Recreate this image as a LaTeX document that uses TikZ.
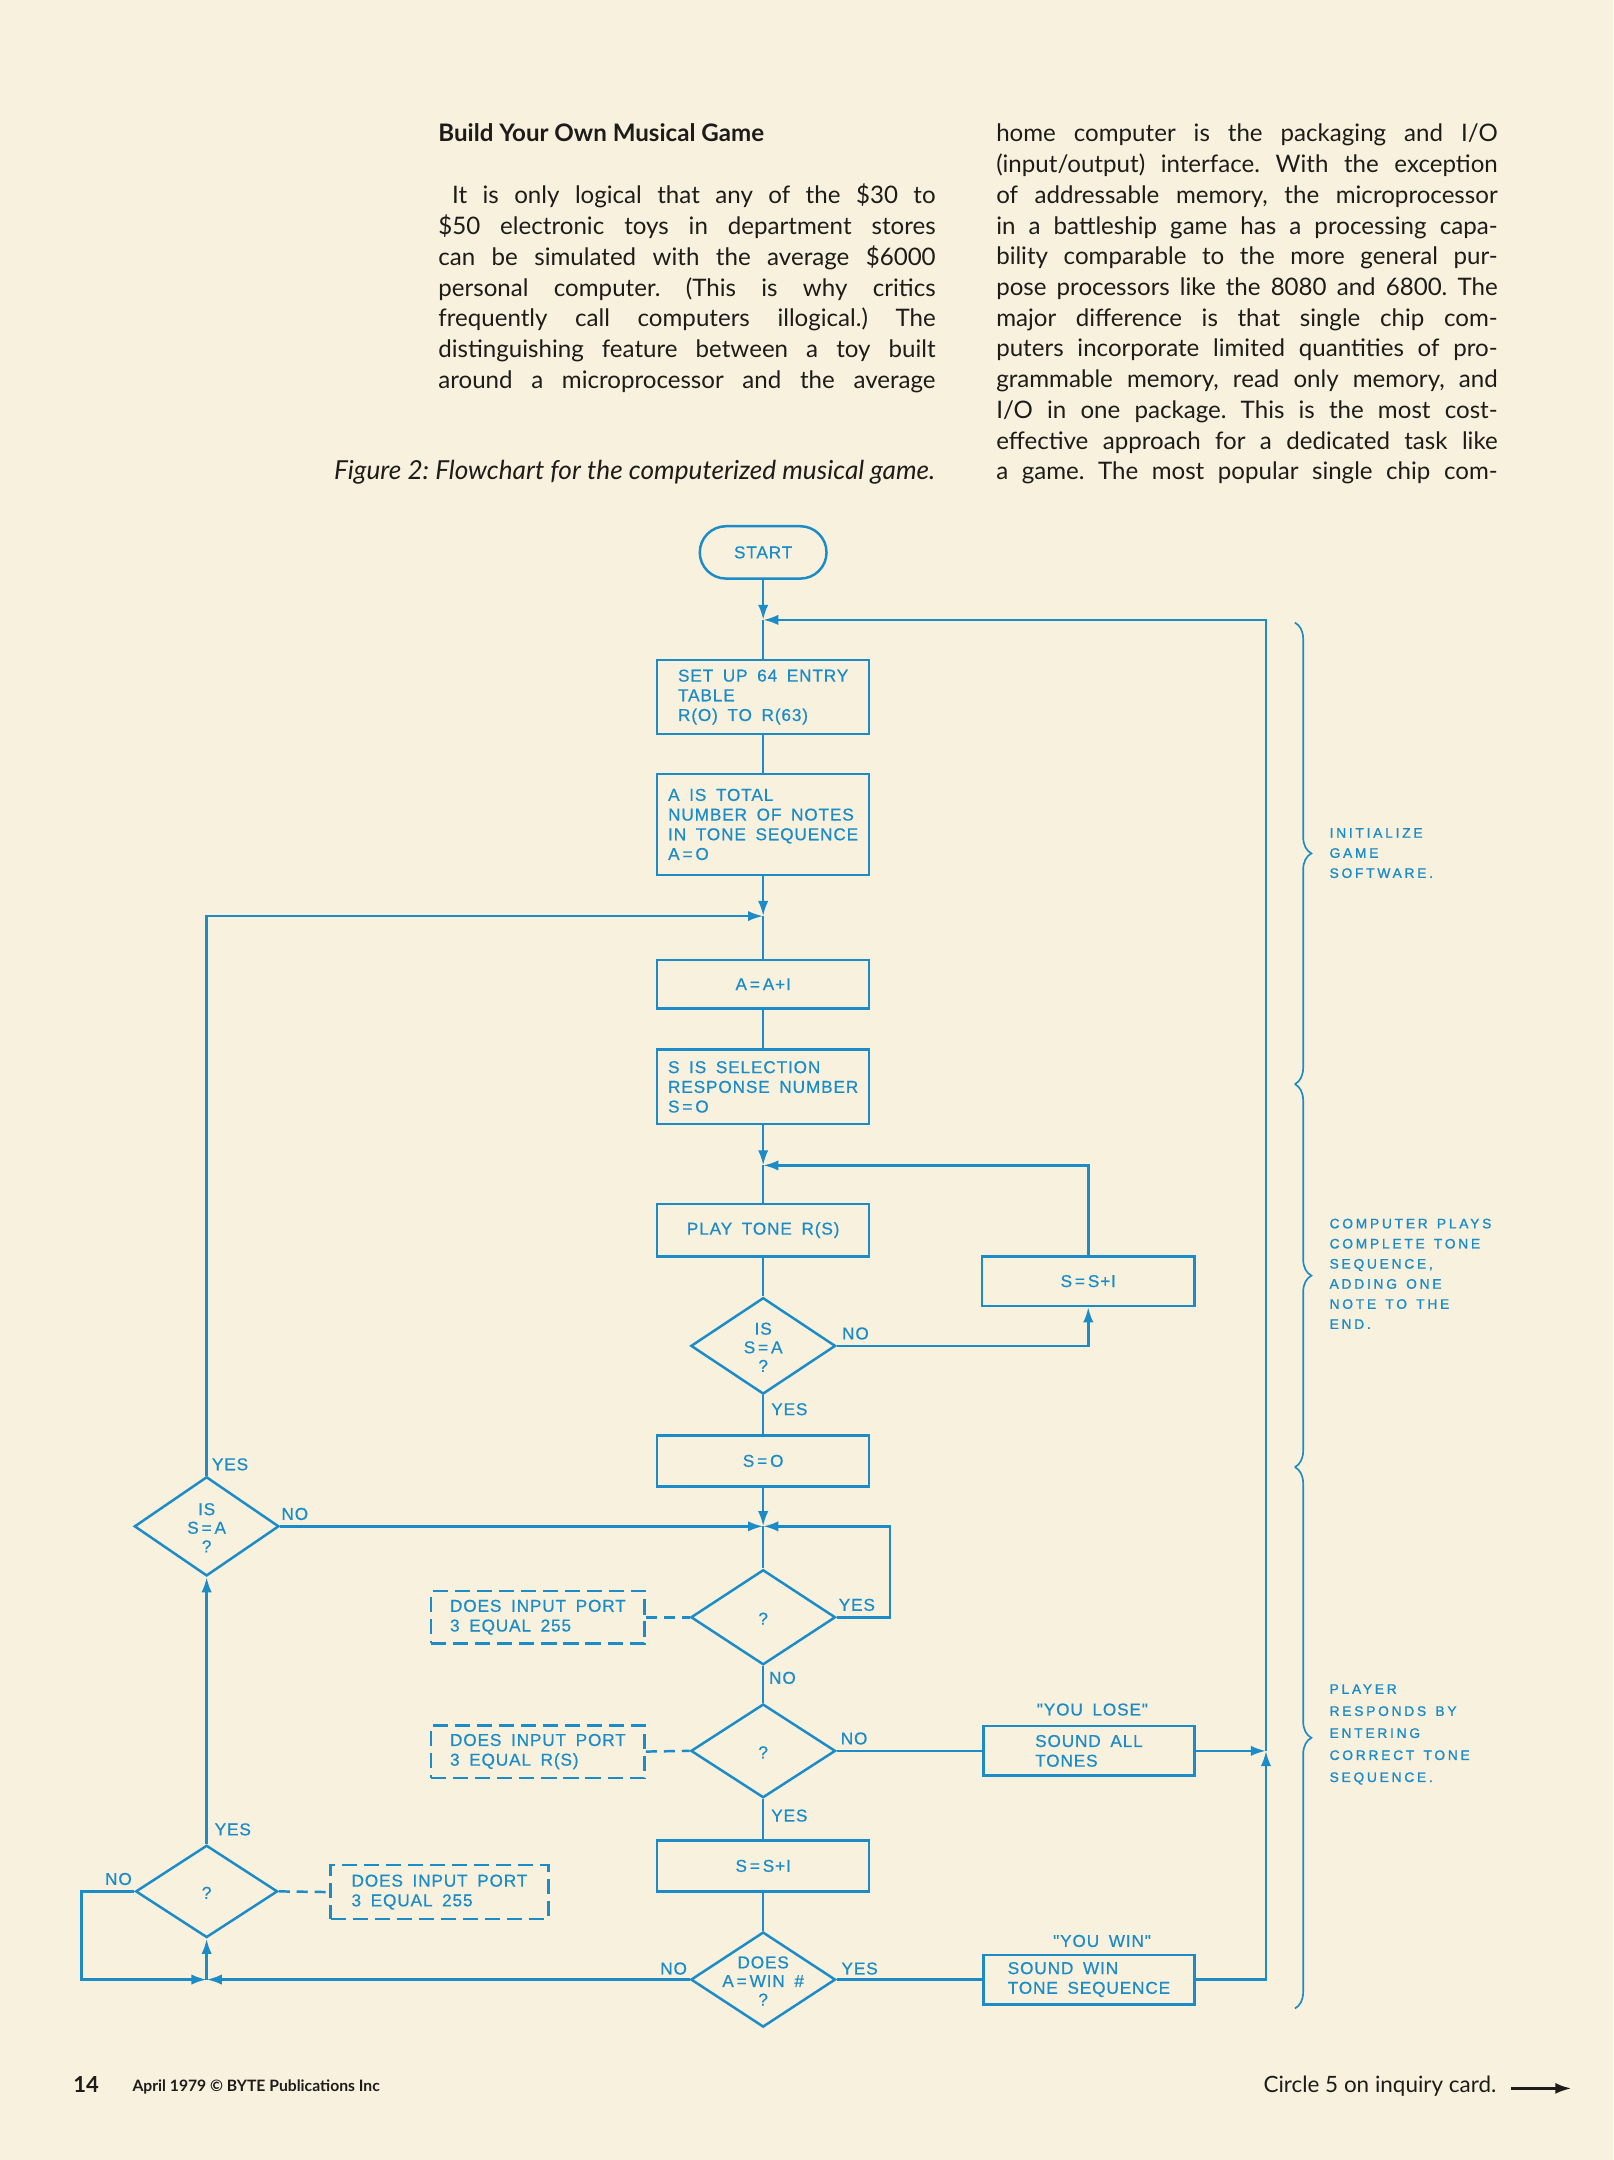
\documentclass[tikz,border=0pt]{standalone}
\usepackage{fontspec}
\setmainfont{Lato}
\newfontfamily\flowfont[LetterSpace=5,WordSpace=1.7,FakeBold=0.6]{Liberation Sans}
\newfontfamily\bracefont[LetterSpace=20,WordSpace=1.4,FakeBold=1.2]{Liberation Sans}
\usetikzlibrary{arrows.meta,shapes.geometric,decorations.pathreplacing,calc}
\definecolor{paper}{RGB}{247,241,221}
\definecolor{fblue}{RGB}{28,140,200}
\definecolor{ink}{RGB}{30,28,26}
\newcommand\jline[2]{\makebox[#1pt][s]{#2}}
\begin{document}
\frenchspacing
\begin{tikzpicture}[x=1pt,y=-1pt,
  every node/.style={inner sep=0pt},
  fl/.style={line width=1.8pt, draw=fblue},
  arr/.style={fl, -{Latex[length=11pt,width=7.5pt]}},
  ff/.style={text=fblue, font=\flowfont\fontsize{12.5}{14.3}\selectfont},
  box/.style={ff, draw=fblue, line width=1.8pt, minimum width=154pt, align=left},
  cbox/.style={box, align=center},
  dia/.style={diamond, draw=fblue, line width=1.8pt, minimum width=105pt, minimum height=70pt, inner sep=0pt},
  dtext/.style={ff, align=center, font=\flowfont\fontsize{12.5}{13.5}\selectfont},
  lbl/.style={ff},
  pbox/.style={ff, draw=fblue, line width=1.8pt, dash pattern=on 11pt off 5pt, minimum width=155pt, minimum height=38pt, align=left},
  dashc/.style={fl, dash pattern=on 8pt off 5pt},
  bracestyle/.style={draw=fblue, line width=1.2pt, decorate, decoration={brace, amplitude=12pt}},
  bracelbl/.style={anchor=north west, align=left, text=fblue, font=\bracefont\fontsize{10}{14.6}\selectfont},
  body/.style={anchor=base west, text=ink, font=\fontsize{17.5}{22.3}\selectfont},
]
% page
\fill[paper] (0,0) rectangle (1171,1568);
\useasboundingbox (0,0) rectangle (1171,1568);

% ---------- text columns ----------
\node[body, font=\bfseries\fontsize{17.5}{22.3}\selectfont] (title) at (318,103) {Build Your Own Musical Game};
\node[body] (l1) at (328,148.0) {\jline{351}{It is only logical that any of the \$30 to}};
\node[body] (l2) at (318,170.3) {\jline{361}{\$50 electronic toys in department stores}};
\node[body] (l3) at (318,192.6) {\jline{361}{can be simulated with the average \$6000}};
\node[body] (l4) at (318,214.9) {\jline{361}{personal computer. (This is why critics}};
\node[body] (l5) at (318,237.2) {\jline{361}{frequently call computers illogical.) The}};
\node[body] (l6) at (318,259.5) {\jline{361}{distinguishing feature between a toy built}};
\node[body] (l7) at (318,281.8) {\jline{361}{around a microprocessor and the average}};
\node[body, anchor=base east, font=\itshape\fontsize{19}{22.3}\selectfont] (cap) at (679,348.3) {Figure 2: Flowchart for the computerized musical game.};

\node[body] (r1) at (723,103.0) {\jline{364}{home computer is the packaging and I/O}};
\node[body] (r2) at (723,125.3) {\jline{364}{(input/output) interface. With the exception}};
\node[body] (r3) at (723,147.6) {\jline{364}{of addressable memory, the microprocessor}};
\node[body] (r4) at (723,169.9) {\jline{364}{in a battleship game has a processing capa-}};
\node[body] (r5) at (723,192.2) {\jline{364}{bility comparable to the more general pur-}};
\node[body] (r6) at (723,214.5) {\jline{364}{pose processors like the 8080 and 6800. The}};
\node[body] (r7) at (723,236.8) {\jline{364}{major difference is that single chip com-}};
\node[body] (r8) at (723,259.1) {\jline{364}{puters incorporate limited quantities of pro-}};
\node[body] (r9) at (723,281.4) {\jline{364}{grammable memory, read only memory, and}};
\node[body] (r10) at (723,303.7) {\jline{364}{I/O in one package. This is the most cost-}};
\node[body] (r11) at (723,326.0) {\jline{364}{effective approach for a dedicated task like}};
\node[body] (r12) at (723,348.3) {\jline{364}{a game. The most popular single chip com-}};

% ---------- flowchart nodes ----------
\node[cbox, minimum width=92pt, minimum height=38pt, rounded corners=19pt] (start) at (554,401) {START};
\node[box, minimum height=54pt] (b1) at (554,506) {SET UP 64 ENTRY\\TABLE\\R(O) TO R(63)};
\node[box, minimum height=73pt] (b2) at (554,598.5) {A IS TOTAL\\NUMBER OF NOTES\\IN TONE SEQUENCE\\A\,=\,O};
\node[cbox, minimum height=35pt] (b3) at (554,714.5) {A\,=\,A+I};
\node[box, minimum height=54pt] (b4) at (554,789) {S IS SELECTION\\RESPONSE NUMBER\\S\,=\,O};
\node[cbox, minimum height=38pt] (b5) at (554,893) {PLAY TONE R(S)};
\node[cbox, minimum height=36pt] (ss1) at (790,930) {S\,=\,S+I};
\node[dia] (d1) at (554,977) {};
\node[dtext] (d1t) at (554,978) {IS\\S\,=\,A\\?};
\node[cbox, minimum height=37pt] (b6) at (554,1060.5) {S\,=\,O};
\node[dia, minimum height=69pt] (d2) at (554,1174) {};
\node[dtext] (d2t) at (554,1175) {?};
\node[dia, minimum height=68pt] (d3) at (554,1271) {};
\node[dtext] (d3t) at (554,1272) {?};
\node[cbox, minimum height=37pt] (b7) at (554,1354.5) {S\,=\,S+I};
\node[dia, minimum height=69pt] (d4) at (554,1437) {};
\node[dtext] (d4t) at (554,1438) {DOES\\A\,=\,WIN \#\\?};
\node[box, minimum width=153pt, minimum height=36pt] (lose) at (790.5,1271) {SOUND ALL\\TONES};
\node[box, minimum width=153pt, minimum height=36pt] (win) at (790.5,1437) {SOUND WIN\\TONE SEQUENCE};
\node[lbl] (ylose) at (793,1241) {"YOU LOSE"};
\node[lbl] (ywin) at (800,1409) {"YOU WIN"};
\node[dia, minimum width=103pt, minimum height=67pt] (d5) at (150,1373) {};
\node[dtext] (d5t) at (150,1374) {?};
\node[dia, minimum width=105pt, minimum height=72pt] (d6) at (150,1108) {};
\node[dtext] (d6t) at (150,1109) {IS\\S\,=\,A\\?};
\node[pbox] (p1) at (390.5,1174) {DOES INPUT PORT\\3 EQUAL 255};
\node[pbox] (p2) at (390.5,1271.5) {DOES INPUT PORT\\3 EQUAL R(S)};
\node[pbox, minimum width=158pt, minimum height=39pt] (p3) at (319,1373.5) {DOES INPUT PORT\\3 EQUAL 255};

% labels
\node[lbl] (no1) at (621,968) {NO};
\node[lbl] (yes1) at (573,1023) {YES};
\node[lbl] (no6) at (214,1099) {NO};
\node[lbl] (yes6) at (167,1063) {YES};
\node[lbl] (yes2) at (622,1165) {YES};
\node[lbl] (no2) at (568,1218) {NO};
\node[lbl] (no3) at (620,1262) {NO};
\node[lbl] (yes3) at (573,1318) {YES};
\node[lbl] (yes4) at (624,1429) {YES};
\node[lbl] (no4) at (489,1429) {NO};
\node[lbl] (no5) at (86,1364) {NO};
\node[lbl] (yes5) at (169,1328) {YES};

% junction coordinates
\coordinate (j1) at (554,450);
\coordinate (rc1) at (919,450);
\coordinate (jR) at (919,1271);
\coordinate (j2) at (554,665);
\coordinate (j3) at (554,846);
\coordinate (j4) at (554,1108);
\coordinate (j5) at (150,1437);

% ---------- connectors ----------
\draw[arr] (start.south) -- (j1);
\draw[fl] (j1) -- (b1.north);
\draw[fl] (b1.south) -- (b2.north);
\draw[arr] (b2.south) -- (j2);
\draw[fl] (j2) -- (b3.north);
\draw[fl] (b3.south) -- (b4.north);
\draw[arr] (b4.south) -- (j3);
\draw[fl] (j3) -- (b5.north);
\draw[arr] (ss1.north) |- (j3);
\draw[fl] (b5.south) -- (d1.north);
\draw[arr] (d1.east) -| (ss1.south);
\draw[fl] (d1.south) -- (b6.north);
\draw[arr] (b6.south) -- (j4);
\draw[fl] (j4) -- (d2.north);
\draw[arr] (d2.east) -- ++(38.5,0) |- (j4);
\draw[arr] (d6.east) -- (j4);
\draw[fl] (d2.south) -- (d3.north);
\draw[fl] (d3.east) -- (lose.west);
\draw[fl] (d3.south) -- (b7.north);
\draw[fl] (b7.south) -- (d4.north);
\draw[fl] (d4.east) -- (win.west);
\draw[arr] (win.east) -| (jR);
\draw[arr] (lose.east) -- (jR);
\draw[arr] (jR) -- (rc1) -- (j1);
\draw[arr] (d4.west) -- (j5);
\draw[arr] (d5.west) -- ++(-38.5,0) |- (j5);
\draw[arr] (j5) -- (d5.south);
\draw[arr] (d5.north) -- (d6.south);
\draw[arr] (d6.north) |- (j2);
\draw[dashc] (p1.east) -- (d2.west);
\draw[dashc] (p2.east) -- (d3.west);
\draw[dashc] (d5.east) -- (p3.west);

% ---------- braces ----------
\coordinate (br0) at (940,452);
\coordinate (br1) at (940,787);
\coordinate (br2) at (940,1065);
\coordinate (br3) at (940,1458);
\draw[bracestyle] (br0) -- (br1);
\draw[bracestyle] (br1) -- (br2);
\draw[bracestyle] (br2) -- (br3);
\node[bracelbl] (bl1) at (965,601) {INITIALIZE\\GAME\\SOFTWARE.};
\node[bracelbl] (bl2) at (965,884.5) {COMPUTER PLAYS\\COMPLETE TONE\\SEQUENCE,\\ADDING ONE\\NOTE TO THE\\END.};
\node[bracelbl, font=\bracefont\fontsize{10}{16}\selectfont] (bl3) at (965,1222.5) {PLAYER\\RESPONDS BY\\ENTERING\\CORRECT TONE\\SEQUENCE.};

% ---------- footer ----------
\node[body, font=\bfseries\fontsize{16}{18}\selectfont] (pg) at (53,1519) {14};
\node[body, font=\bfseries\fontsize{11.4}{12}\selectfont] (cr) at (96,1518) {April 1979 \textcopyright\ BYTE Publications Inc};
\node[body, font=\fontsize{16.3}{18}\selectfont] (circ) at (917,1519) {Circle 5 on inquiry card.};
\coordinate (fa1) at (1097,1516);
\coordinate (fa2) at (1141,1516);
\draw[ink, line width=2.2pt, -{Latex[length=12pt,width=8pt]}] (fa1) -- (fa2);
\end{tikzpicture}
\end{document}
